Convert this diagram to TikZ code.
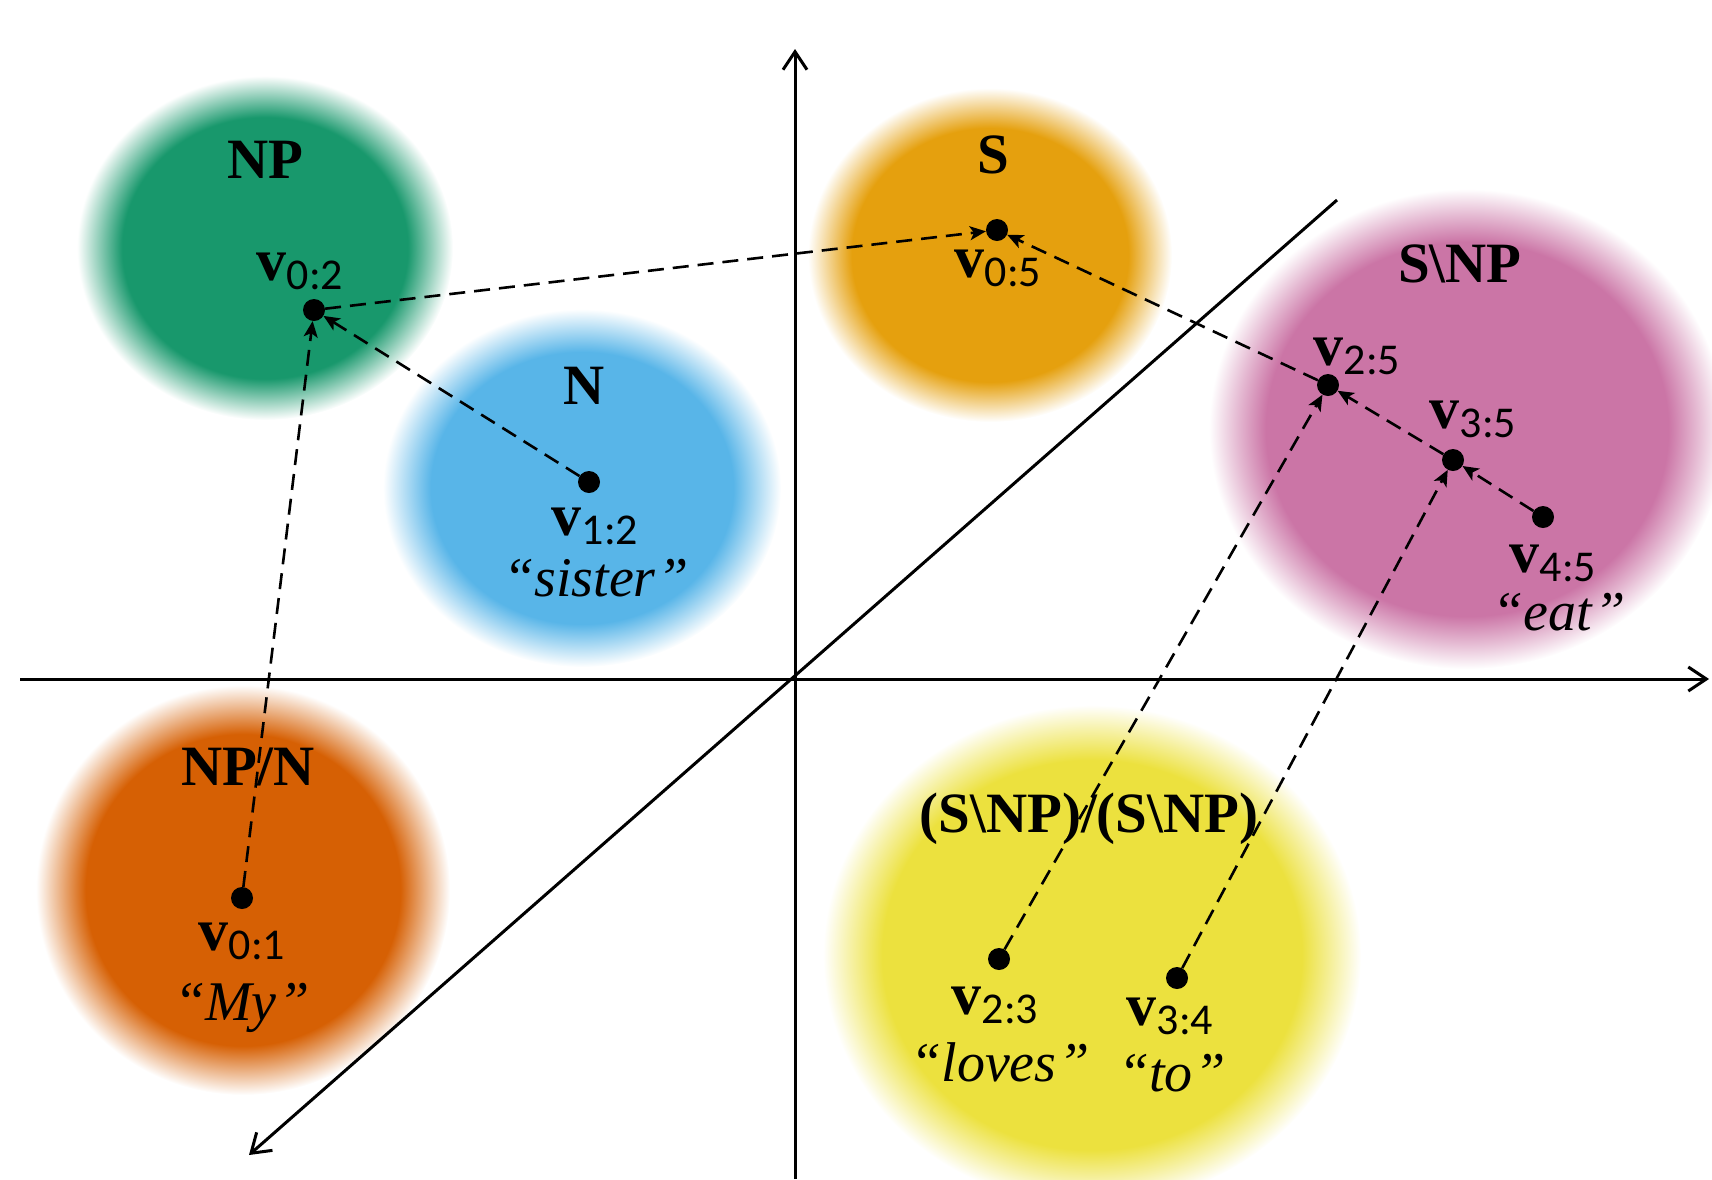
\documentclass[tikz,border=0pt]{standalone}
\usepackage{fontspec}
\setmainfont{Liberation Serif}
\newfontfamily\subf{Carlito}
\usetikzlibrary{arrows.meta}
\definecolor{cG}{RGB}{24,152,108}
\definecolor{cB}{RGB}{88,181,232}
\definecolor{cA}{RGB}{229,160,14}
\definecolor{cP}{RGB}{203,117,166}
\definecolor{cO}{RGB}{214,96,4}
\definecolor{cY}{RGB}{236,225,62}
\pgfdeclareradialshading{shG}{\pgfpointorigin}{color(0bp)=(cG); color(19bp)=(cG); color(22bp)=(cG!50!white); color(25bp)=(white); color(50bp)=(white)}
\pgfdeclareradialshading{shB}{\pgfpointorigin}{color(0bp)=(cB); color(19bp)=(cB); color(22bp)=(cB!50!white); color(25bp)=(white); color(50bp)=(white)}
\pgfdeclareradialshading{shA}{\pgfpointorigin}{color(0bp)=(cA); color(19bp)=(cA); color(22bp)=(cA!50!white); color(25bp)=(white); color(50bp)=(white)}
\pgfdeclareradialshading{shP}{\pgfpointorigin}{color(0bp)=(cP); color(19.5bp)=(cP); color(22.3bp)=(cP!50!white); color(25bp)=(white); color(50bp)=(white)}
\pgfdeclareradialshading{shO}{\pgfpointorigin}{color(0bp)=(cO); color(19bp)=(cO); color(22bp)=(cO!50!white); color(25bp)=(white); color(50bp)=(white)}
\pgfdeclareradialshading{shY}{\pgfpointorigin}{color(0bp)=(cY); color(19.5bp)=(cY); color(22.3bp)=(cY!50!white); color(25bp)=(white); color(50bp)=(white)}
\newcommand\catfont{\fontsize{57}{60}\selectfont\bfseries}
\newcommand\vecl[1]{{\fontsize{60}{60}\selectfont\bfseries v}\raisebox{-9pt}{\subf\fontsize{44}{44}\selectfont #1}}
\newcommand\wordl[1]{{\fontsize{56}{58}\selectfont\itshape “#1\kern2pt”}}
\begin{document}
\begin{tikzpicture}[x=1pt,y=-1pt,
  dotnode/.style={circle, fill=black, inner sep=0pt, minimum size=22pt},
  catlab/.style={font=\catfont, inner sep=0pt, anchor=base},
  vlab/.style={inner sep=0pt, anchor=base},
  wlab/.style={inner sep=0pt, anchor=base},
  link/.style={dash pattern=on 16pt off 9pt, line width=2.6pt, -{Stealth[length=16pt,width=14pt,inset=4pt]}},
  axisline/.style={line width=3pt, -{Straight Barb[length=18pt,width=24pt]}},
  blob/.style={shading=#1}
]
\useasboundingbox (0,0) rectangle (1712,1179);
\clip (0,0) rectangle (1712,1179);
% blurred regions
\begin{scope}[blend mode=multiply]
\path[blob=shG] (265,248) ellipse [x radius=188pt, y radius=172pt];
\path[blob=shB] (582,488) ellipse [x radius=199pt, y radius=179pt];
\path[blob=shA] (990,255) ellipse [x radius=182pt, y radius=167pt];
\path[blob=shP] (1467,429) ellipse [x radius=258pt, y radius=240pt];
\path[blob=shO] (243,890) ellipse [x radius=207pt, y radius=205pt];
\path[blob=shY] (1092,955) ellipse [x radius=269pt, y radius=250pt];
\end{scope}
% axes
\coordinate (O) at (795,679);
\coordinate (ybot) at (795,1179);
\coordinate (ytop) at (795,49);
\coordinate (xl) at (20,679);
\coordinate (xr) at (1709,679);
\coordinate (dtop) at (1337,200);
\coordinate (dbot) at (249,1155);
\draw[axisline] (ybot) -- (ytop);
\draw[axisline] (xl) -- (xr);
\draw[axisline] (dtop) -- (dbot);
% category labels
\node[catlab] (cNP) at (265,178) {NP};
\node[catlab] (cS) at (993,173) {S};
\node[catlab] (cN) at (584,404) {N};
\node[catlab] (cSNP) at (1460,282) {S\textbackslash NP};
\node[catlab] (cNPN) at (248,785) {NP/N};
\node[catlab] (cMod) at (1089,832) {(S\textbackslash NP)/(S\textbackslash NP)};
% dots
\node[dotnode] (v02) at (314,310) {};
\node[dotnode] (v05) at (997,230) {};
\node[dotnode] (v12) at (589,482) {};
\node[dotnode] (v01) at (242,898) {};
\node[dotnode] (v25) at (1328,385) {};
\node[dotnode] (v35) at (1453,460) {};
\node[dotnode] (v45) at (1543,517) {};
\node[dotnode] (v23) at (999,959) {};
\node[dotnode] (v34) at (1177,978) {};
% vector labels
\node[vlab] (l02) at (300,280) {\vecl{0:2}};
\node[vlab] (l05) at (998,277) {\vecl{0:5}};
\node[vlab] (l12) at (595,535) {\vecl{1:2}};
\node[vlab] (l01) at (242,950) {\vecl{0:1}};
\node[vlab] (l25) at (1357,365) {\vecl{2:5}};
\node[vlab] (l35) at (1473,428) {\vecl{3:5}};
\node[vlab] (l45) at (1553,572) {\vecl{4:5}};
\node[vlab] (l23) at (995,1014) {\vecl{2:3}};
\node[vlab] (l34) at (1170,1025) {\vecl{3:4}};
% words
\node[wlab] (w12) at (596,596) {\wordl{sister}};
\node[wlab] (w01) at (242,1020) {\wordl{My}};
\node[wlab] (w45) at (1559,630) {\wordl{eat}};
\node[wlab] (w23) at (1000,1081) {\wordl{loves}};
\node[wlab] (w34) at (1172,1091) {\wordl{to}};
% connectors
\draw[link] (v01) -- (v02);
\draw[link] (v12) -- (v02);
\draw[link] (v02) -- (v05);
\draw[link] (v25) -- (v05);
\draw[link] (v35) -- (v25);
\draw[link] (v45) -- (v35);
\draw[link] (v23) -- (v25);
\draw[link] (v34) -- (v35);
\end{tikzpicture}
\end{document}
